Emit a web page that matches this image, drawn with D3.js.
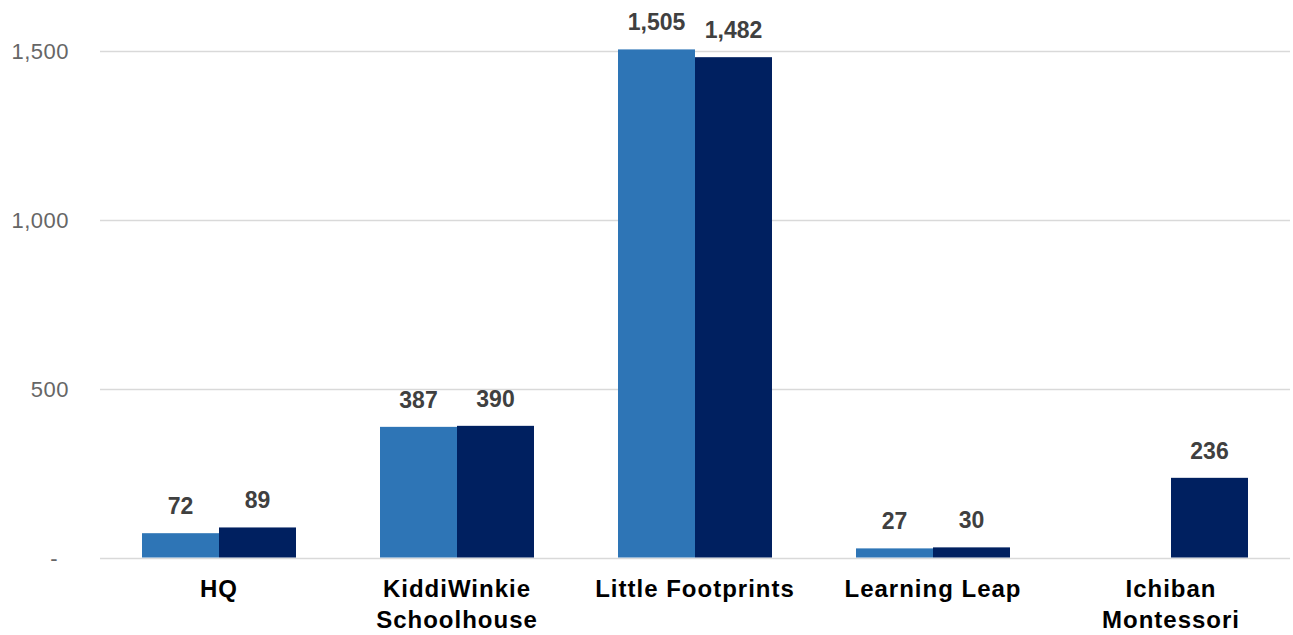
<!DOCTYPE html>
<html>
<head>
<meta charset="utf-8">
<script src="https://cdn.jsdelivr.net/npm/d3@7"></script>
<style>
  body { margin: 0; background: #fff; }
  svg { display: block; font-family: "Liberation Sans", Arial, sans-serif; }
</style>
</head>
<body>
<div class="viz"></div>
<script>
// data
var categories = [['HQ'], ['KiddiWinkie', 'Schoolhouse'], ['Little Footprints'], ['Learning Leap'], ['Ichiban', 'Montessori']];
var seriesA = [72, 387, 1505, 27, null];
var seriesB = [89, 390, 1482, 30, 236];
var yTicks = [0, 500, 1000, 1500];
var seriesColors = ['#2E75B6', '#002060'];

var W = 1293, H = 635;
var margins = { top: 0, right: 3, bottom: 77, left: 100 };
var width = W - margins.left - margins.right;

var svg = d3.select('div.viz')
    .append('svg')
    .attr('width', W)
    .attr('height', H);

var g = svg.append('g')
    .attr('transform', 'translate(' + margins.left + ',0)');

var keys = categories.map(function(c) { return c.join(' '); });

// bars take ~154px of a 238px slot
var xScale = d3.scaleBand()
    .domain(keys)
    .range([0, width])
    .paddingInner(0.353)
    .paddingOuter(0.1765);

var inner = d3.scaleBand()
    .domain([0, 1])
    .range([0, xScale.bandwidth()]);

// 0 -> 557.5, 500 units = 168.8px
var yScale = d3.scaleLinear()
    .domain([0, 1500])
    .range([557.5, 51.1]);

// gridlines
g.append('g')
    .selectAll('line')
    .data(yTicks)
    .enter()
    .append('line')
    .attr('x1', 0)
    .attr('x2', width)
    .attr('y1', function(d) { return Math.round(yScale(d)) + 0.5; })
    .attr('y2', function(d) { return Math.round(yScale(d)) + 0.5; })
    .attr('stroke', '#d9d9d9')
    .attr('stroke-width', 1.5);

// y labels (accounting style: zero shown as a dash, set in a bit)
svg.append('g')
    .selectAll('text')
    .data(yTicks)
    .enter()
    .append('text')
    .attr('x', function(d) { return d === 0 ? 58 : 69; })
    .attr('y', function(d) { return yScale(d) + 8; })
    .attr('text-anchor', 'end')
    .attr('fill', '#666666')
    .style('font-size', '22px')
    .style('letter-spacing', '0.5px')
    .text(function(d) { return d === 0 ? '-' : d3.format(',')(d); });

// bars
var rows = categories.map(function(c, i) {
    return { key: keys[i], vals: [seriesA[i], seriesB[i]] };
});

var groups = g.selectAll('g.bar-group')
    .data(rows)
    .enter()
    .append('g')
    .attr('class', 'bar-group')
    .attr('transform', function(d) { return 'translate(' + xScale(d.key) + ',0)'; });

var cells = groups.selectAll('g.cell')
    .data(function(d) {
        return d.vals.map(function(v, j) { return { v: v, j: j }; })
            .filter(function(e) { return e.v != null; });
    })
    .enter()
    .append('g')
    .attr('class', 'cell');

cells.append('rect')
    .attr('x', function(d) { return inner(d.j); })
    .attr('width', inner.bandwidth())
    .attr('y', function(d) { return yScale(d.v); })
    .attr('height', function(d) { return yScale(0) - yScale(d.v); })
    .attr('fill', function(d) { return seriesColors[d.j]; });

cells.append('text')
    .attr('x', function(d) { return inner(d.j) + inner.bandwidth() / 2; })
    .attr('y', function(d) { return yScale(d.v) - 19; })
    .attr('text-anchor', 'middle')
    .attr('fill', '#404040')
    .style('font-size', '23px')
    .style('font-weight', 'bold')
    .text(function(d) { return d3.format(',')(d.v); });

// x labels
var xl = g.selectAll('text.xlab')
    .data(rows)
    .enter()
    .append('text')
    .attr('class', 'xlab')
    .attr('text-anchor', 'middle')
    .attr('fill', '#000')
    .style('font-size', '24px')
    .style('font-weight', 'bold')
    .style('letter-spacing', '1px')
    .attr('transform', function(d) {
        return 'translate(' + (xScale(d.key) + xScale.bandwidth() / 2) + ',597)';
    });

xl.selectAll('tspan')
    .data(function(d, i) { return categories[i]; })
    .enter()
    .append('tspan')
    .attr('x', 0)
    .attr('dy', function(d, i) { return i === 0 ? 0 : 31; })
    .text(function(d) { return d; });
</script>
</body>
</html>
